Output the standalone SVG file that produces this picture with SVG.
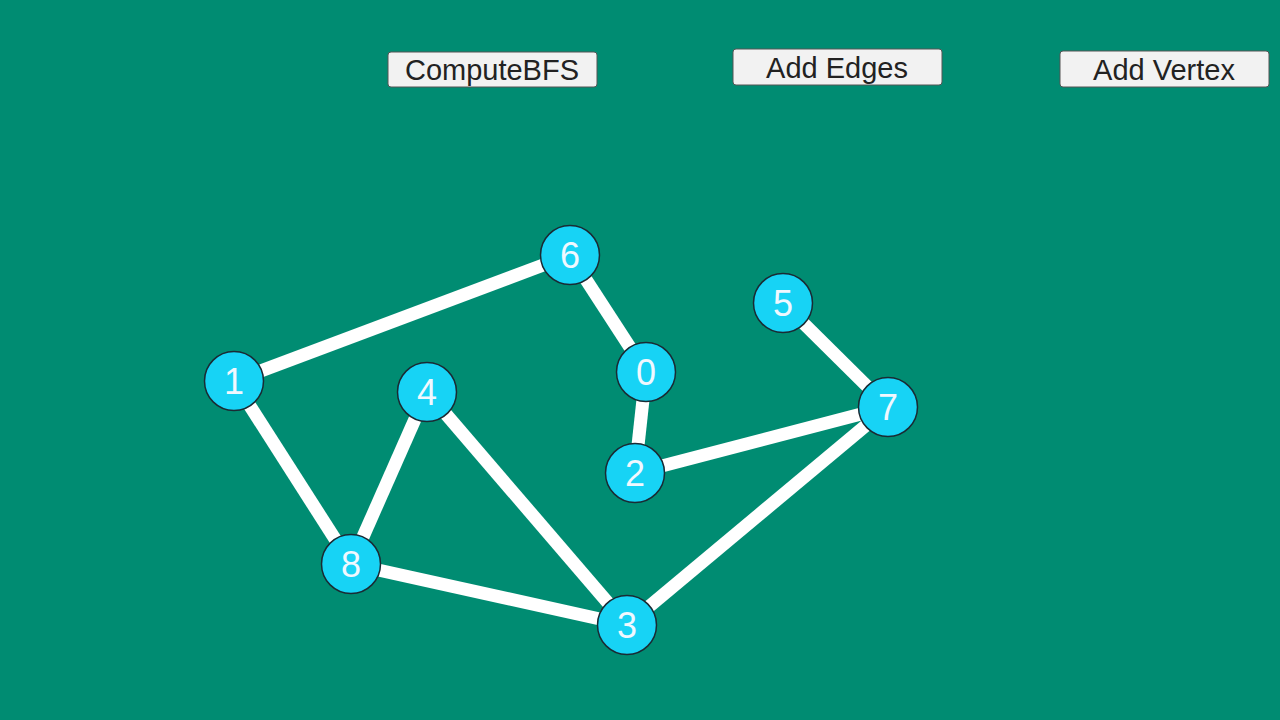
<svg xmlns="http://www.w3.org/2000/svg" width="1280" height="720" viewBox="0 0 1280 720">
<style>
.btn rect{fill:#f2f2f2;stroke:#555;stroke-width:1}
.btn text{font-family:"Liberation Sans",Arial,sans-serif;font-size:29px;fill:#222;text-anchor:middle}
.node circle{fill:#17d3f5;stroke:#1a2a33;stroke-width:1.5}
.node text{font-family:"Liberation Sans",Arial,sans-serif;font-size:36px;fill:#f0f8ff;text-anchor:middle}
#edges line{stroke:#fff;stroke-width:13}
</style>
<rect width="1280" height="720" fill="#008c72"/>
<g id="btn-bfs" class="btn"><rect x="388" y="52" width="209" height="35" rx="3"/><text x="492" y="80">ComputeBFS</text></g>
<g id="btn-edges" class="btn"><rect x="733" y="49" width="209" height="36" rx="3"/><text x="837" y="78">Add Edges</text></g>
<g id="btn-vertex" class="btn"><rect x="1060" y="51" width="209" height="36" rx="3"/><text x="1164" y="80">Add Vertex</text></g>
<g id="edges">
<line x1="234" y1="381" x2="570" y2="255"/>
<line x1="570" y1="255" x2="646" y2="372"/>
<line x1="646" y1="372" x2="635" y2="473"/>
<line x1="635" y1="473" x2="888" y2="407"/>
<line x1="783" y1="303" x2="888" y2="407"/>
<line x1="888" y1="407" x2="627" y2="625"/>
<line x1="627" y1="625" x2="427" y2="392"/>
<line x1="627" y1="625" x2="351" y2="564"/>
<line x1="351" y1="564" x2="427" y2="392"/>
<line x1="234" y1="381" x2="351" y2="564"/>
</g>
<g id="n6" class="node"><circle cx="570" cy="255" r="29.5"/><text x="570" y="268">6</text></g>
<g id="n5" class="node"><circle cx="783" cy="303" r="29.5"/><text x="783" y="316">5</text></g>
<g id="n0" class="node"><circle cx="646" cy="372" r="29.5"/><text x="646" y="385">0</text></g>
<g id="n1" class="node"><circle cx="234" cy="381" r="29.5"/><text x="234" y="394">1</text></g>
<g id="n4" class="node"><circle cx="427" cy="392" r="29.5"/><text x="427" y="405">4</text></g>
<g id="n7" class="node"><circle cx="888" cy="407" r="29.5"/><text x="888" y="420">7</text></g>
<g id="n2" class="node"><circle cx="635" cy="473" r="29.5"/><text x="635" y="486">2</text></g>
<g id="n8" class="node"><circle cx="351" cy="564" r="29.5"/><text x="351" y="577">8</text></g>
<g id="n3" class="node"><circle cx="627" cy="625" r="29.5"/><text x="627" y="638">3</text></g>
</svg>
